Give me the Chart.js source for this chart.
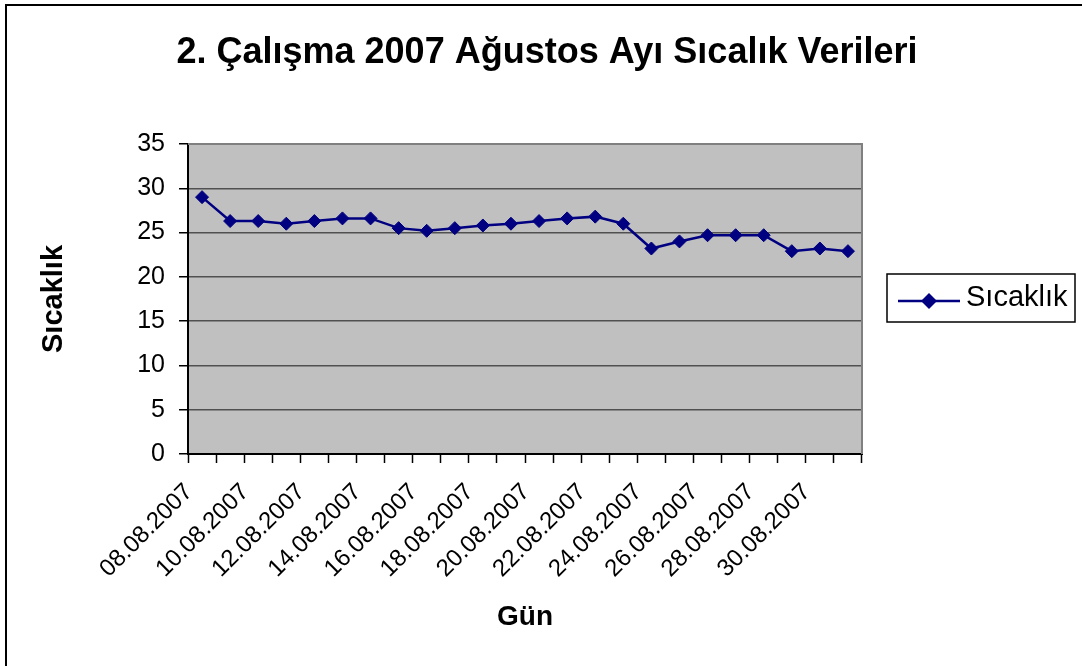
<!DOCTYPE html>
<html>
<head>
<meta charset="utf-8">
<script src="https://cdn.jsdelivr.net/npm/chart.js@4/dist/chart.umd.min.js"></script>
<style>
  html, body { margin: 0; padding: 0; background: #fff; }
  #wrap { position: relative; width: 1082px; height: 666px; }
</style>
</head>
<body>
<div id="wrap"><canvas id="c" width="1082" height="666"></canvas></div>
<script>
// chart texts
const chartTitle = '2. Çalışma 2007 Ağustos Ayı Sıcalık Verileri';
const seriesName = 'Sıcaklık';
const xTitle = 'Gün';
const yTitle = 'Sıcaklık';

// one category per day, only every second one is labelled
const categories = [
  '08.08.2007', '09.08.2007', '10.08.2007', '11.08.2007', '12.08.2007', '13.08.2007',
  '14.08.2007', '15.08.2007', '16.08.2007', '17.08.2007', '18.08.2007', '19.08.2007',
  '20.08.2007', '21.08.2007', '22.08.2007', '23.08.2007', '24.08.2007', '25.08.2007',
  '26.08.2007', '27.08.2007', '28.08.2007', '29.08.2007', '30.08.2007', '31.08.2007'
];
const temps = [
  29.0, 26.3, 26.3, 26.0, 26.3, 26.6,
  26.6, 25.5, 25.2, 25.5, 25.8, 26.0,
  26.3, 26.6, 26.8, 26.0, 23.2, 24.0,
  24.7, 24.7, 24.7, 22.9, 23.2, 22.9
];
const yMin = 0;
const yMax = 35;
const yStep = 5;

const FONT = '"Liberation Sans", Arial, sans-serif';
const NAVY = '#000080';

/**
 * Draws the Excel-like frame: white page, grey plot area, outer border,
 * titles and the boxed legend on the right.
 */
const excelFrame = {
  id: 'excelFrame',
  beforeDraw(chart) {
    const { ctx, chartArea: a } = chart;
    ctx.save();
    ctx.fillStyle = '#fff';
    ctx.fillRect(0, 0, chart.width, chart.height);
    ctx.fillStyle = '#c0c0c0';
    ctx.fillRect(a.left, a.top, a.right - a.left, a.bottom - a.top);
    // outer chart border (only top and left are inside the picture)
    ctx.strokeStyle = '#000';
    ctx.lineWidth = 2;
    ctx.beginPath();
    ctx.moveTo(6, chart.height);
    ctx.lineTo(6, 5);
    ctx.lineTo(chart.width, 5);
    ctx.stroke();
    ctx.restore();
  },
  beforeDatasetsDraw(chart) {
    const { ctx, chartArea: a } = chart;
    ctx.save();
    ctx.strokeStyle = '#808080';
    ctx.lineWidth = 2;
    ctx.beginPath();
    ctx.moveTo(a.left, a.top);
    ctx.lineTo(a.right, a.top);
    ctx.lineTo(a.right, a.bottom);
    ctx.stroke();
    ctx.restore();
  },
  afterDraw(chart) {
    const { ctx, chartArea: a } = chart;
    ctx.save();
    ctx.fillStyle = '#000';
    ctx.textAlign = 'center';
    ctx.textBaseline = 'middle';

    ctx.font = 'bold 36px ' + FONT;
    ctx.fillText(chartTitle, 547, 53);

    ctx.font = 'bold 28px ' + FONT;
    ctx.fillText(xTitle, (a.left + a.right) / 2, 617);

    ctx.font = 'bold 29px ' + FONT;
    ctx.translate(54, (a.top + a.bottom) / 2);
    ctx.rotate(-Math.PI / 2);
    ctx.fillText(yTitle, 0, 0);
    ctx.restore();

    // legend
    const ds = chart.data.datasets[0];
    ctx.save();
    ctx.fillStyle = '#fff';
    ctx.fillRect(887, 274, 188, 48);
    ctx.strokeStyle = '#000';
    ctx.lineWidth = 1.5;
    ctx.strokeRect(887, 274, 188, 48);
    ctx.strokeStyle = ds.borderColor;
    ctx.lineWidth = 2.5;
    ctx.beginPath();
    ctx.moveTo(898, 301);
    ctx.lineTo(960, 301);
    ctx.stroke();
    ctx.fillStyle = ds.pointBackgroundColor;
    ctx.beginPath();
    ctx.moveTo(929 - 8, 301);
    ctx.lineTo(929, 293);
    ctx.lineTo(929 + 8, 301);
    ctx.lineTo(929, 309);
    ctx.closePath();
    ctx.fill();
    ctx.fillStyle = '#000';
    ctx.font = '29px ' + FONT;
    ctx.textAlign = 'left';
    ctx.textBaseline = 'middle';
    ctx.fillText(ds.label, 966, 298);
    ctx.restore();
  }
};

new Chart(document.getElementById('c'), {
  type: 'line',
  data: {
    labels: categories,
    datasets: [{
      label: seriesName,
      data: temps,
      borderColor: NAVY,
      borderWidth: 2.5,
      backgroundColor: NAVY,
      pointBackgroundColor: NAVY,
      pointBorderColor: NAVY,
      pointStyle: 'rectRot',
      pointRadius: 6.5,
      pointBorderWidth: 1,
      tension: 0,
      fill: false
    }]
  },
  options: {
    responsive: false,
    animation: false,
    layout: {
      padding: { left: 108, top: 144, right: 220, bottom: 52 }
    },
    plugins: {
      legend: { display: false },
      title: { display: false },
      tooltip: { enabled: false }
    },
    scales: {
      x: {
        type: 'category',
        offset: true,
        afterFit(scale) { scale.height = 160; },
        grid: {
          offset: true,
          drawOnChartArea: false,
          tickLength: 9,
          tickColor: '#000',
          tickWidth: 1.5
        },
        border: { color: '#000', width: 2 },
        ticks: {
          autoSkip: false,
          minRotation: 45,
          maxRotation: 45,
          padding: 15,
          labelOffset: -13,
          color: '#000',
          font: { family: FONT, size: 24 },
          callback: function(value, index) {
            return index % 2 === 0 ? categories[index] : '';
          }
        }
      },
      y: {
        min: yMin,
        max: yMax,
        afterFit(scale) { scale.width = 80; },
        grid: {
          color: '#505050',
          lineWidth: 1.5,
          tickLength: 9,
          tickColor: '#000'
        },
        border: { color: '#000', width: 2 },
        ticks: {
          stepSize: yStep,
          padding: 14,
          color: '#000',
          font: { family: FONT, size: 25 }
        }
      }
    }
  },
  plugins: [excelFrame]
});
</script>
</body>
</html>
